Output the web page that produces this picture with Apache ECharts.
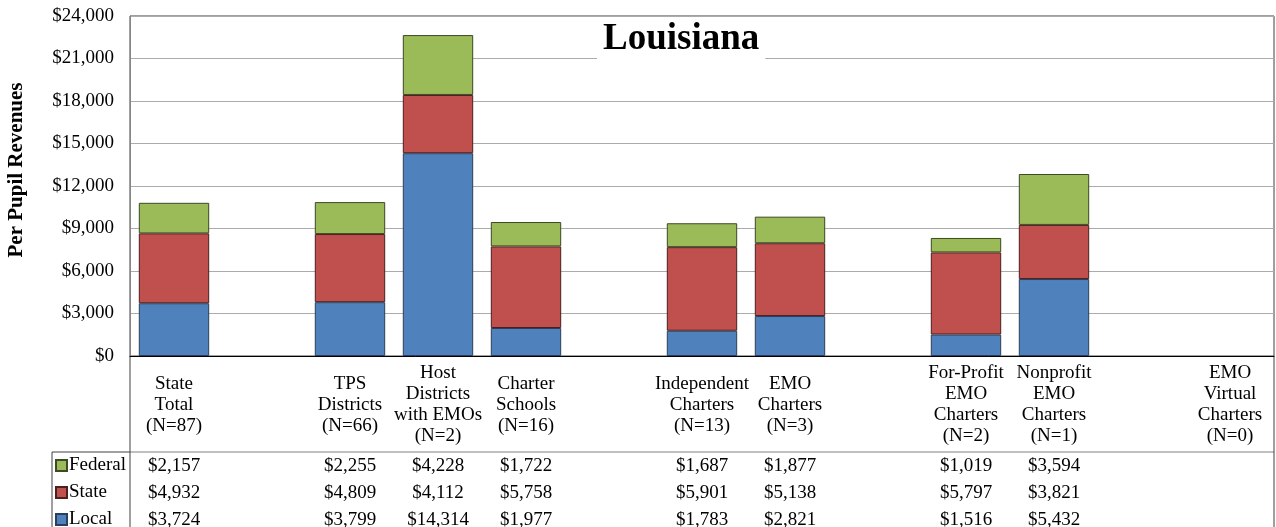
<!DOCTYPE html>
<html>
<head>
<meta charset="utf-8">
<script src="https://cdn.jsdelivr.net/npm/echarts@6/dist/echarts.min.js"></script>
<style>
  html, body { margin: 0; padding: 0; background: #fff; }
  #chart { width: 1276px; height: 527px; }
</style>
</head>
<body>
<div id="chart"></div>
<script>
// categories (empty strings are the gaps between groups)
const categories = [
  'State\nTotal\n(N=87)', '',
  'TPS\nDistricts\n(N=66)', 'Host\nDistricts\nwith EMOs\n(N=2)', 'Charter\nSchools\n(N=16)', '',
  'Independent\nCharters\n(N=13)', 'EMO\nCharters\n(N=3)', '',
  'For-Profit\nEMO\nCharters\n(N=2)', 'Nonprofit\nEMO\nCharters\n(N=1)', '',
  'EMO\nVirtual\nCharters\n(N=0)'
];
const federal = [2157, null, 2255, 4228, 1722, null, 1687, 1877, null, 1019, 3594, null, null];
const stateRev = [4932, null, 4809, 4112, 5758, null, 5901, 5138, null, 5797, 3821, null, null];
const local = [3724, null, 3799, 14314, 1977, null, 1783, 2821, null, 1516, 5432, null, null];

const FONT = "'Liberation Serif', 'Times New Roman', serif";
const fmt = v => '$' + Number(v).toLocaleString('en-US');

const chart = echarts.init(document.getElementById('chart'));

const barBase = { type: 'bar', stack: 'rev', barCategoryGap: '20%' };

const option = {
  animation: false,
  textStyle: { fontFamily: FONT, color: '#000' },
  title: {
    text: 'Louisiana',
    left: 597,
    top: 18,
    padding: [3, 6, 3, 6],
    backgroundColor: '#fff',
    textStyle: { fontFamily: FONT, fontSize: 37, fontWeight: 'bold', color: '#000' }
  },
  legend: {
    data: ['Federal', 'State', 'Local'],
    orient: 'vertical',
    left: 55,
    top: 456,
    height: 120,
    itemWidth: 11,
    itemHeight: 11,
    itemGap: 8,
    padding: 0,
    icon: 'rect',
    textStyle: { fontFamily: FONT, fontSize: 19, lineHeight: 19, color: '#000', padding: [0, 0, 0, -3] }
  },
  grid: {
    left: 130, right: 2, top: 16, bottom: 171,
    outerBoundsMode: 'none',
    show: true, borderColor: '#404040', borderWidth: 1
  },
  xAxis: [
    {
      type: 'category',
      data: categories,
      axisLine: { lineStyle: { color: '#000', width: 1 } },
      axisTick: { show: false },
      axisLabel: {
        interval: 0, margin: 49, verticalAlign: 'middle',
        fontFamily: FONT, fontSize: 19, lineHeight: 21, color: '#000'
      }
    },
    {
      type: 'category',
      data: categories,
      position: 'bottom',
      axisLine: { show: false },
      axisTick: { show: false },
      axisLabel: {
        interval: 0, margin: 137, verticalAlign: 'middle',
        fontFamily: FONT, fontSize: 19, lineHeight: 27, color: '#000',
        formatter: (v, i) => federal[i] == null ? '' :
          [fmt(federal[i]), fmt(stateRev[i]), fmt(local[i])].join('\n')
      }
    }
  ],
  yAxis: {
    type: 'value',
    min: 0, max: 24000, interval: 3000,
    axisLine: { show: true, lineStyle: { color: '#868686' } },
    axisTick: { show: false },
    splitLine: { lineStyle: { color: '#ababab' } },
    axisLabel: { margin: 16, fontFamily: FONT, fontSize: 19, color: '#000', formatter: fmt }
  },
  series: [
    Object.assign({}, barBase, { name: 'Local', data: local,
      itemStyle: { color: '#4F81BD', borderColor: '#2b3f5c', borderWidth: 1 } }),
    Object.assign({}, barBase, { name: 'State', data: stateRev,
      itemStyle: { color: '#C0504D', borderColor: '#4a1f1e', borderWidth: 1 } }),
    Object.assign({}, barBase, { name: 'Federal', data: federal,
      itemStyle: { color: '#9BBB59', borderColor: '#3d4a23', borderWidth: 1 } })
  ],
  graphic: [
    // data table rules
    { type: 'line', shape: { x1: 130, y1: 452, x2: 1274, y2: 452 }, style: { stroke: '#808080', lineWidth: 1 } },
    { type: 'line', shape: { x1: 52, y1: 452, x2: 130, y2: 452 }, style: { stroke: '#404040', lineWidth: 1 } },
    { type: 'line', shape: { x1: 52, y1: 452, x2: 52, y2: 527 }, style: { stroke: '#404040', lineWidth: 1 } },
    { type: 'line', shape: { x1: 130, y1: 356, x2: 130, y2: 527 }, style: { stroke: '#404040', lineWidth: 1 } },
    { type: 'line', shape: { x1: 1274, y1: 356, x2: 1274, y2: 527 }, style: { stroke: '#404040', lineWidth: 1 } },
    // y axis title
    {
      type: 'text', x: 17, y: 170, rotation: Math.PI / 2,
      style: {
        text: 'Per Pupil Revenues', fontFamily: FONT, fontSize: 21, fontWeight: 'bold',
        fill: '#000', align: 'center', verticalAlign: 'middle'
      }
    }
  ]
};

chart.setOption(option);
</script>
</body>
</html>
